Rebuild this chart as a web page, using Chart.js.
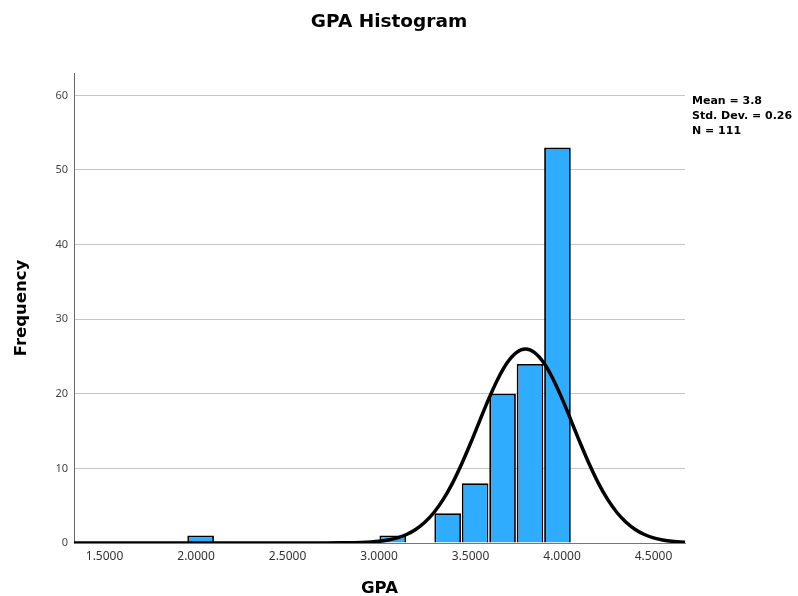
<!DOCTYPE html>
<html>
<head>
<meta charset="utf-8">
<script src="https://cdn.jsdelivr.net/npm/chart.js@4/dist/chart.umd.min.js"></script>
<style>
html,body{margin:0;padding:0;background:#fff;}
#wrap{width:798px;height:596px;position:relative;}
</style>
</head>
<body>
<div id="wrap"><canvas id="c" width="798" height="596"></canvas></div>
<script>
// Histogram bins (bin centres, width 0.15) and frequencies
const binCenters = [2.025, 3.075, 3.375, 3.525, 3.675, 3.825, 3.975];
const frequencies = [1, 1, 4, 8, 20, 24, 53];

// Normal curve (GPA, frequency)
const curveX = [1.333, 2.5, 2.7, 2.8, 2.9, 3.0, 3.05, 3.1, 3.15, 3.2, 3.25, 3.3, 3.35, 3.4, 3.45, 3.5, 3.55, 3.6, 3.65, 3.7, 3.75, 3.8,
                3.85, 3.9, 3.95, 4.0, 4.05, 4.1, 4.15, 4.2, 4.25, 4.3, 4.35, 4.4, 4.45, 4.5, 4.55, 4.6, 4.7];
const curveY = [0, 0, 0.005, 0.02, 0.07, 0.23, 0.41, 0.69, 1.14, 1.81, 2.78, 4.09, 5.81, 7.96, 10.52, 13.37, 16.38, 19.35, 22.02, 24.16, 25.53, 26.0,
                25.53, 24.16, 22.02, 19.35, 16.38, 13.37, 10.52, 7.96, 5.81, 4.09, 2.78, 1.81, 1.14, 0.69, 0.41, 0.23, 0.07];

const xTickStep = 0.5;
const yTickStep = 10;
const chartTitle = 'GPA Histogram';
const xTitle = 'GPA';
const yTitle = 'Frequency';
const statsLines = ['Mean = 3.8', 'Std. Dev. = 0.26', 'N = 111'];

const barData = binCenters.map((x, i) => ({x: x, y: frequencies[i]}));
const curveData = curveX.map((x, i) => ({x: x, y: curveY[i]}));

const textPlugin = {
  id: 'texts',
  afterDraw(chart) {
    const ctx = chart.ctx;
    const ca = chart.chartArea;
    ctx.save();
    ctx.fillStyle = '#000';
    ctx.textAlign = 'center';
    ctx.textBaseline = 'middle';
    ctx.font = 'bold 18.5px "DejaVu Sans", sans-serif';
    ctx.fillText(chartTitle, 389, 22);
    ctx.font = 'bold 16.5px "DejaVu Sans", sans-serif';
    ctx.fillText(xTitle, (ca.left + ca.right) / 2, 589);
    ctx.save();
    ctx.translate(22, (ca.top + ca.bottom) / 2);
    ctx.rotate(-Math.PI / 2);
    ctx.fillText(yTitle, 0, 0);
    ctx.restore();
    ctx.textAlign = 'left';
    ctx.font = 'bold 11px "DejaVu Sans", sans-serif';
    statsLines.forEach((s, i) => ctx.fillText(s, ca.right + 7, 101 + i * 15));
    ctx.restore();
  }
};

new Chart(document.getElementById('c'), {
  data: {
    datasets: [
      {
        type: 'line',
        data: curveData,
        borderColor: '#000',
        borderWidth: 3.5,
        pointRadius: 0,
        fill: false,
        cubicInterpolationMode: 'monotone',
        order: 0
      },
      {
        type: 'bar',
        data: barData,
        backgroundColor: '#30acfe',
        borderColor: '#000',
        borderWidth: 1.8,
        barPercentage: 0.97,
        categoryPercentage: 1.0,
        order: 1
      }
    ]
  },
  options: {
    responsive: false,
    animation: false,
    layout: {padding: {left: 0, right: 113, top: 73, bottom: 0}},
    plugins: {legend: {display: false}, tooltip: {enabled: false}, title: {display: false}},
    scales: {
      x: {
        type: 'linear',
        min: 1.333,
        max: 4.672,
        offset: false,
        grid: {display: false, drawTicks: false},
        border: {display: true, color: '#777', width: 1},
        ticks: {
          stepSize: xTickStep,
          includeBounds: false,
          padding: 6,
          color: '#333',
          font: {family: '"Noto Sans", sans-serif', size: 12},
          maxRotation: 0,
          callback: v => Number(v).toFixed(4)
        },
        afterFit: s => { s.height = 53; }
      },
      y: {
        min: 0,
        max: 63,
        grid: {color: '#c6c6c6', lineWidth: 1, drawTicks: false},
        border: {display: true, color: '#666', width: 1},
        ticks: {
          stepSize: yTickStep,
          includeBounds: false,
          padding: 6,
          color: '#444',
          font: {family: '"Noto Sans", sans-serif', size: 11}
        },
        afterFit: s => { s.width = 74; }
      }
    }
  },
  plugins: [textPlugin]
});
</script>
</body>
</html>
